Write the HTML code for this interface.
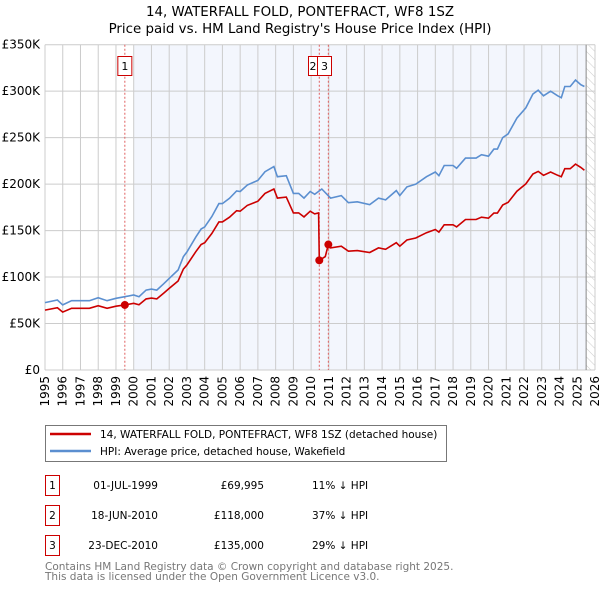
<!DOCTYPE html>
<html><head><meta charset="utf-8"><style>
body{margin:0;background:#fff;font-family:"DejaVu Sans","Liberation Sans",sans-serif;}
svg text{font-family:"DejaVu Sans","Liberation Sans",sans-serif;}
</style></head><body>
<svg id="c" width="600" height="590" viewBox="0 0 600 590" xmlns="http://www.w3.org/2000/svg">
<defs><pattern id="hatch" width="6" height="6" patternUnits="userSpaceOnUse" patternTransform="rotate(-45)"><line x1="0" y1="0" x2="0" y2="6" stroke="#ccc" stroke-width="1"/></pattern></defs>
<text x="300" y="16" text-anchor="middle" font-size="13.4" fill="#000">14, WATERFALL FOLD, PONTEFRACT, WF8 1SZ</text>
<text x="300" y="33" text-anchor="middle" font-size="13.4" fill="#000">Price paid vs. HM Land Registry's House Price Index (HPI)</text>
<g id="plot"></g>
<g>
<rect x="45.5" y="425.5" width="401" height="36" fill="#fff" stroke="#777"/>
<line x1="50" y1="434" x2="91" y2="434" stroke="#cc0000" stroke-width="2.5"/>
<text x="100" y="438" font-size="10.5">14, WATERFALL FOLD, PONTEFRACT, WF8 1SZ (detached house)</text>
<line x1="50" y1="451" x2="91" y2="451" stroke="#5b8fd0" stroke-width="2.5"/>
<text x="100" y="455" font-size="10.5">HPI: Average price, detached house, Wakefield</text>
</g>
<g font-size="10.5">
<rect x="45.5" y="475.5" width="14" height="20" fill="#fff" stroke="#cc0000"/><text x="52.5" y="489" text-anchor="middle">1</text>
<text x="158" y="489" text-anchor="end">01-JUL-1999</text><text x="264" y="489" text-anchor="end">£69,995</text><text x="312" y="489">11% ↓ HPI</text>
<rect x="45.5" y="505.5" width="14" height="20" fill="#fff" stroke="#cc0000"/><text x="52.5" y="519" text-anchor="middle">2</text>
<text x="158" y="519" text-anchor="end">18-JUN-2010</text><text x="264" y="519" text-anchor="end">£118,000</text><text x="312" y="519">37% ↓ HPI</text>
<rect x="45.5" y="535.5" width="14" height="20" fill="#fff" stroke="#cc0000"/><text x="52.5" y="549" text-anchor="middle">3</text>
<text x="158" y="549" text-anchor="end">23-DEC-2010</text><text x="264" y="549" text-anchor="end">£135,000</text><text x="312" y="549">29% ↓ HPI</text>
</g>
<text x="45" y="570" font-size="10.5" fill="#777">Contains HM Land Registry data © Crown copyright and database right 2025.</text>
<text x="45" y="580" font-size="10.5" fill="#777">This data is licensed under the Open Government Licence v3.0.</text>
</svg>
<script>
const hpiYears=[1995.0,1995.7,1996.0,1996.5,1997.5,1998.0,1998.5,1999.0,1999.5,2000.0,2000.3,2000.7,2001.0,2001.3,2001.7,2002.0,2002.5,2002.8,2003.0,2003.5,2003.8,2004.0,2004.4,2004.8,2005.0,2005.4,2005.8,2006.0,2006.4,2007.0,2007.4,2007.9,2008.1,2008.6,2009.0,2009.3,2009.6,2009.95,2010.2,2010.6,2011.1,2011.7,2012.1,2012.6,2013.3,2013.8,2014.2,2014.8,2015.0,2015.4,2015.9,2016.5,2017.0,2017.2,2017.5,2018.0,2018.2,2018.7,2019.3,2019.6,2020.0,2020.3,2020.5,2020.8,2021.1,2021.6,2022.1,2022.5,2022.8,2023.1,2023.5,2023.9,2024.1,2024.3,2024.6,2024.9,2025.2,2025.4];
const hpiValues=[72.5,75.3,70,74.6,74.6,77.8,74.6,77.1,78.9,80.7,78.9,86,87,86,93,98.6,107.6,122,127,143,151.7,154,165,179,179,184.7,192.6,192,199,204,213.4,218.8,208,209,190,190,185,192,189,194.7,185,187.6,180,181,178,185,183,193,187.6,197,200,208,213,209,220,220,217,228,228,231.6,230,237.7,237.7,250,254,271,282,297,301,295,300,295,293,305,305,312,307,305];
const propYears=[1995.0,1995.7,1996.0,1996.5,1997.5,1998.0,1998.5,1999.0,1999.5,2000.0,2000.3,2000.7,2001.0,2001.3,2001.7,2002.0,2002.5,2002.8,2003.0,2003.5,2003.8,2004.0,2004.4,2004.8,2005.0,2005.4,2005.8,2006.0,2006.4,2007.0,2007.4,2007.9,2008.1,2008.6,2009.0,2009.3,2009.6,2009.95,2010.2,2010.42,2010.46,2010.8,2010.97,2011.1,2011.7,2012.1,2012.6,2013.3,2013.8,2014.2,2014.8,2015.0,2015.4,2015.9,2016.5,2017.0,2017.2,2017.5,2018.0,2018.2,2018.7,2019.3,2019.6,2020.0,2020.3,2020.5,2020.8,2021.1,2021.6,2022.1,2022.5,2022.8,2023.1,2023.5,2023.9,2024.1,2024.3,2024.6,2024.9,2025.2,2025.4];
const propValues=[64.5,67,62.3,66.4,66.4,69.2,66.4,68.6,70.0,71.8,70.2,76.5,77.4,76.5,82.8,87.8,95.8,108.6,113,127.3,135,137,146.9,159.3,159.3,164.4,171.4,170.9,177.1,181.6,190,194.7,185,186,169,169,164.7,170.9,168,169,118,122,135,131.4,133.2,127.8,128.5,126.4,131.4,129.9,137,133.2,139.9,142,147.7,151.2,148.4,156.2,156.2,154,161.9,161.9,164.4,163.3,168.8,168.8,177.5,180.3,192.4,200.2,210.9,213.7,209.5,213,209.5,208,216.6,216.6,221.5,218,215];
const saleYears=[1999.5,2010.46,2010.97];
const saleValues=[69.995,118,135];
const saleLabels=["1","2","3"];
const yTicks=[0,50,100,150,200,250,300,350];
const yTickLabels=["£0","£50K","£100K","£150K","£200K","£250K","£300K","£350K"];
const xTicks=[1995,1996,1997,1998,1999,2000,2001,2002,2003,2004,2005,2006,2007,2008,2009,2010,2011,2012,2013,2014,2015,2016,2017,2018,2019,2020,2021,2022,2023,2024,2025,2026];

const X0=45,X1=595,Y0=370,Y1=44.7;
const xs=t=>X0+(t-1995)/(2026-1995)*(X1-X0);
const ys=v=>Y0-v/350*(Y0-Y1);
const NS="http://www.w3.org/2000/svg";
const g=document.getElementById('plot');
function mk(tag,attrs,parent){const e=document.createElementNS(NS,tag);for(const k in attrs)e.setAttribute(k,attrs[k]);(parent||g).appendChild(e);return e;}
let r=mk('rect',{x:X0,y:Y1,width:X1-X0,height:Y0-Y1,fill:'#fff'});


let sh=mk('rect',{x:xs(2000),y:Y1,width:xs(2025.5)-xs(2000),height:Y0-Y1,fill:'#f3f6fd'});


let ht=mk('rect',{x:xs(2025.5),y:Y1,width:X1-xs(2025.5),height:Y0-Y1,fill:'url(#hatch)'});


xTicks.forEach(t=>{
  let l=mk('line',{x1:xs(t),x2:xs(t),y1:Y1,y2:Y0,stroke:'#ccc','stroke-width':1});
  
  
  let tx=mk('text',{x:0,y:0,'font-size':12,'text-anchor':'end',transform:`translate(${xs(t)+4},${Y0+6}) rotate(-90)`});
  tx.textContent=t;
  
  
});
yTicks.forEach((v,i)=>{
  let l=mk('line',{x1:X0,x2:X1,y1:ys(v),y2:ys(v),stroke:'#ccc','stroke-width':1});
  
  
  let tx=mk('text',{x:40,y:ys(v)+4,'font-size':12,'text-anchor':'end'});
  tx.textContent=yTickLabels[i];
  
  
});
let vl=mk('line',{x1:xs(2025.5),x2:xs(2025.5),y1:Y1,y2:Y0,stroke:'#888','stroke-width':1});


saleYears.forEach(t=>{
  let l=mk('line',{x1:xs(t),x2:xs(t),y1:Y1,y2:Y0,stroke:'#e06060','stroke-width':1,'stroke-dasharray':'2,2'});
  
  
});
const path=(xa,va)=>xa.map((t,i)=>(i?'L':'M')+xs(t).toFixed(1)+','+ys(va[i]).toFixed(1)).join('');
let hp=mk('path',{d:path(hpiYears,hpiValues),fill:'none',stroke:'#5b8fd0','stroke-width':1.6});


let pp=mk('path',{d:path(propYears,propValues),fill:'none',stroke:'#cc0000','stroke-width':1.6});


saleYears.forEach((t,i)=>{
  let c=mk('circle',{cx:xs(t),cy:ys(saleValues[i]),r:4,fill:'#cc0000'});
  
  
});
const boxX=[xs(1999.5)-7,308.5,317.5];
const boxW=[14,9,14];
saleLabels.forEach((s,i)=>{
  let b=mk('rect',{x:boxX[i],y:56.5,width:boxW[i],height:19,fill:'#fff',stroke:'#cc0000'});
  
  
  let tx=mk('text',{x:boxX[i]+boxW[i]/2,y:70,'font-size':11,'text-anchor':'middle'});
  tx.textContent=s;
  
  
});
</script>
</body></html>
